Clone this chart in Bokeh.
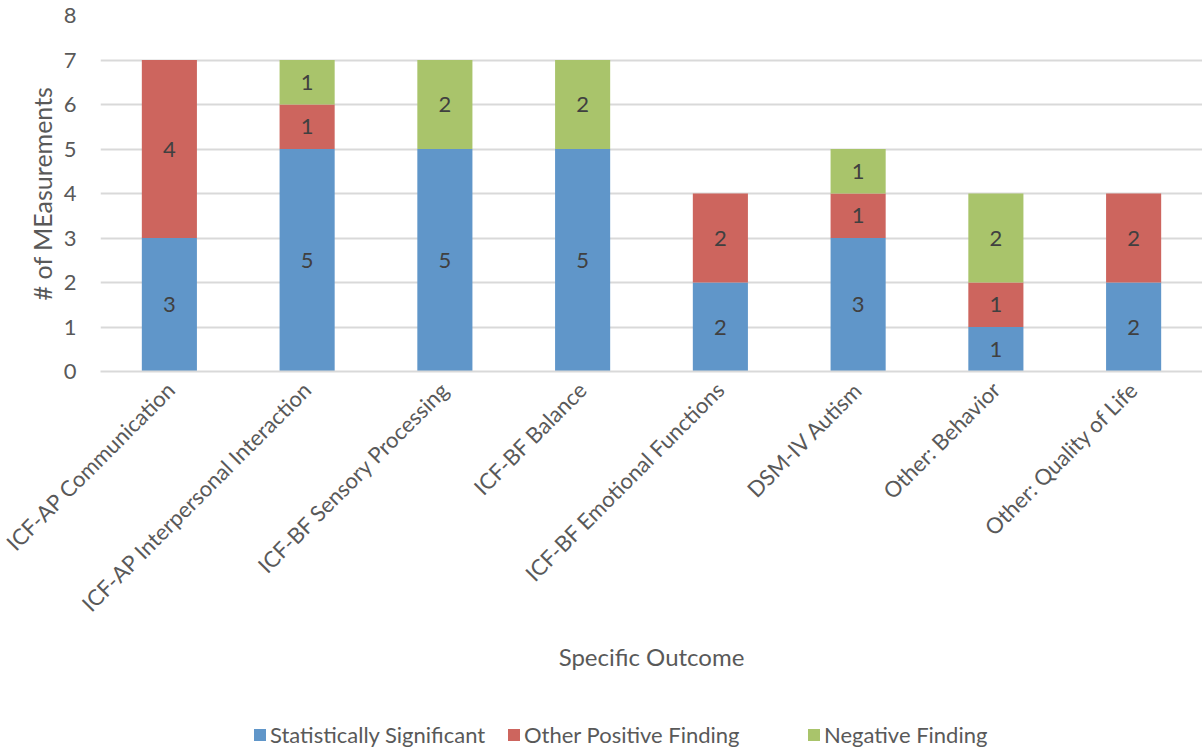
from bokeh.plotting import figure
from bokeh.layouts import column
from bokeh.models import ColumnDataSource, Legend, LegendItem, Range1d, FactorRange
from bokeh.core.properties import value
from bokeh.embed import file_html
from bokeh.resources import INLINE
import math

categories = ["ICF-AP Communication", "ICF-AP Interpersonal Interaction",
              "ICF-BF Sensory Processing", "ICF-BF Balance",
              "ICF-BF Emotional Functions", "DSM-IV Autism",
              "Other: Behavior", "Other: Quality of Life"]
series_names = ["Statistically Significant", "Other Positive Finding", "Negative Finding"]
stat_sig = [3, 5, 5, 5, 2, 3, 1, 2]
other_pos = [4, 1, 0, 0, 2, 1, 1, 2]
negative = [0, 1, 2, 2, 0, 1, 2, 0]
y_ticks = [0, 1, 2, 3, 4, 5, 6, 7, 8]

colors = ["#6096C9", "#CD655E", "#A9C46B"]
FONT = "Lato"
TXT = "#595959"

keys = ["s", "o", "n"]
data = dict(cat=categories, s=stat_sig, o=other_pos, n=negative)
src = ColumnDataSource(data)

p = figure(x_range=FactorRange(*categories, range_padding=0), y_range=Range1d(0, 8),
           width=1202, height=700, output_backend="svg", toolbar_location=None,
           min_border_left=100, min_border_right=0, min_border_top=15,
           min_border_bottom=329)
p.outline_line_color = None

renderers = p.vbar_stack(keys, x="cat", width=0.4, color=colors, source=src, line_color=None)

# data labels
lx, ly, lt = [], [], []
for i, c in enumerate(categories):
    base = 0
    for vals in (stat_sig, other_pos, negative):
        v = vals[i]
        if v > 0:
            lx.append(c)
            ly.append(base + v / 2)
            lt.append(str(v))
        base += v
lsrc = ColumnDataSource(dict(x=lx, y=ly, t=lt))
p.text(x="x", y="y", text="t", source=lsrc, text_align="center", text_baseline="middle",
       text_font=value(FONT), text_font_size="22px", text_color="#404040")

# axes
p.yaxis.ticker = y_ticks
p.yaxis.axis_label = "# of MEasurements"
p.yaxis.axis_label_text_font = FONT
p.yaxis.axis_label_text_font_style = "normal"
p.yaxis.axis_label_text_font_size = "25px"
p.yaxis.axis_label_text_color = TXT
p.yaxis.axis_label_standoff = 4
p.yaxis.major_label_text_font = FONT
p.yaxis.major_label_text_font_size = "22px"
p.yaxis.major_label_text_color = TXT
p.yaxis.axis_line_color = None
p.yaxis.major_tick_line_color = None
p.yaxis.minor_tick_line_color = None
p.yaxis.major_label_standoff = 18

p.xaxis.axis_label = "Specific Outcome"
p.xaxis.axis_label_text_font = FONT
p.xaxis.axis_label_text_font_style = "normal"
p.xaxis.axis_label_text_font_size = "24px"
p.xaxis.axis_label_text_color = TXT
p.xaxis.axis_label_standoff = 13
p.xaxis.major_label_text_font = FONT
p.xaxis.major_label_text_font_size = "22px"
p.xaxis.major_label_text_color = TXT
p.xaxis.major_label_orientation = math.pi / 4
p.xaxis.axis_line_color = "#D9D9D9"
p.xaxis.axis_line_width = 2
p.xaxis.major_tick_line_color = None
p.xaxis.major_label_standoff = 8

p.xgrid.grid_line_color = None
p.ygrid.grid_line_color = "#D9D9D9"
p.ygrid.grid_line_width = 2

# legend strip (zero-size placeholder bars only carry the legend colours)
p2 = figure(width=1202, height=48, output_backend="svg", toolbar_location=None,
            x_range=Range1d(0, 1), y_range=Range1d(0, 1), min_border=0)
p2.axis.visible = False
p2.grid.visible = False
p2.outline_line_color = None
leg_renderers = [p2.vbar(x=[0], top=[0], bottom=[0], width=0, fill_color=c, line_color=None)
                 for c in colors]
leg_x = [152, 406, 706]
for i in range(3):
    lg = Legend(items=[LegendItem(label=series_names[i], renderers=[leg_renderers[i]])],
                orientation="horizontal", location=(leg_x[i], 0),
                label_text_font=FONT, label_text_font_size="22px", label_text_color=TXT,
                glyph_width=15, glyph_height=15, label_standoff=3,
                border_line_color=None, background_fill_alpha=0, margin=0, padding=2)
    p2.add_layout(lg, "center")

layout = column(p, p2, spacing=0)
open("out.html", "w").write(file_html(layout, INLINE))
